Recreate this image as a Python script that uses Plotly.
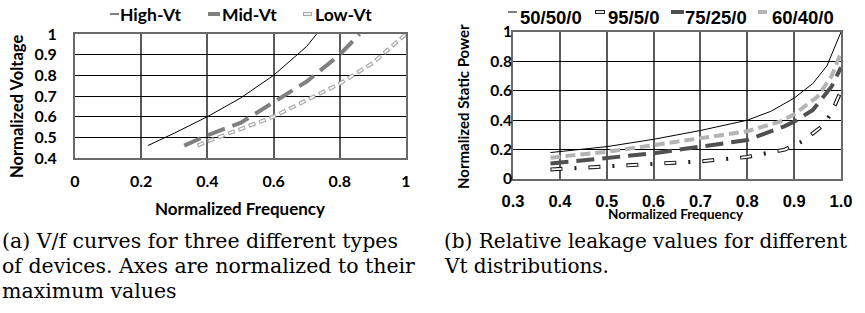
import plotly.graph_objects as go

# ---- data: left panel (V/f curves) ----
high_x = [0.22, 0.3, 0.4, 0.5, 0.6, 0.7, 0.73]
high_y = [0.46, 0.52, 0.6, 0.69, 0.8, 0.94, 1.0]
mid_x = [0.33, 0.4, 0.5, 0.6, 0.7, 0.8, 0.86]
mid_y = [0.46, 0.51, 0.57, 0.67, 0.77, 0.9, 1.0]
low_x = [0.37, 0.4, 0.5, 0.6, 0.7, 0.8, 0.9, 1.0]
low_y = [0.46, 0.48, 0.54, 0.6, 0.68, 0.76, 0.86, 1.0]

# ---- data: right panel (leakage) ----
s50_x = [0.38, 0.5, 0.6, 0.7, 0.8, 0.85, 0.9, 0.94, 0.97, 1.0]
s50_y = [0.18, 0.22, 0.27, 0.33, 0.4, 0.46, 0.55, 0.65, 0.77, 1.0]
s95_x = [0.38, 0.5, 0.6, 0.7, 0.8, 0.88, 0.92, 0.96, 0.98, 1.0]
s95_y = [0.065, 0.085, 0.1, 0.12, 0.15, 0.2, 0.26, 0.36, 0.45, 0.6]
s75_x = [0.38, 0.5, 0.6, 0.7, 0.8, 0.88, 0.9, 0.94, 0.98, 1.0]
s75_y = [0.105, 0.14, 0.175, 0.22, 0.265, 0.36, 0.39, 0.47, 0.63, 0.76]
s60_x = [0.38, 0.5, 0.6, 0.7, 0.8, 0.87, 0.9, 0.95, 0.98, 1.0]
s60_y = [0.145, 0.185, 0.23, 0.275, 0.325, 0.39, 0.44, 0.56, 0.7, 0.86]

left_names = ["High-Vt", "Mid-Vt", "Low-Vt"]
right_names = ["50/50/0", "95/5/0", "75/25/0", "60/40/0"]

left_xticks = [0, 0.2, 0.4, 0.6, 0.8, 1]
left_xlabels = ["0", "0.2", "0.4", "0.6", "0.8", "1"]
left_yticks = [0.4, 0.5, 0.6, 0.7, 0.8, 0.9, 1.0]
left_ylabels = ["0.4", "0.5", "0.6", "0.7", "0.8", "0.9", "1"]
right_xticks = [0.3, 0.4, 0.5, 0.6, 0.7, 0.8, 0.9, 1.0]
right_xlabels = ["0.3", "0.4", "0.5", "0.6", "0.7", "0.8", "0.9", "1.0"]
right_yticks = [0, 0.2, 0.4, 0.6, 0.8, 1.0]
right_ylabels = ["0", "0.2", "0.4", "0.6", "0.8", "1"]

W, H = 865, 313
CAL = "Lato, 'Open Sans', sans-serif"
ARI = "'Liberation Sans', Arial, sans-serif"
SERIF = "'DejaVu Serif', 'Liberation Serif', serif"

# styles
sty_high = dict(color="black", width=1)
sty_mid = dict(color="#808080", width=4, dash="18px,8px")
sty_low_o = dict(color="#a8a8a8", width=4, dash="7px,4px")
sty_low_i = dict(color="white", width=1.6, dash="0px,1px,5px,5px")
sty_50 = dict(color="black", width=1)
sty_95_o = dict(color="#202020", width=4, dash="12px,12px,2px,12px")
sty_95_i = dict(color="white", width=1.8, dash="0px,1px,10px,27px")
sty_75 = dict(color="#505050", width=4, dash="18px,8px")
sty_60 = dict(color="#b4b4b4", width=4, dash="10px,5px")

fig = go.Figure()

def add(x, y, name, line, xa, ya):
    fig.add_trace(go.Scatter(x=x, y=y, mode="lines", name=name, line=line,
                             xaxis=xa, yaxis=ya, showlegend=False))

add(high_x, high_y, left_names[0], sty_high, "x", "y")
add(mid_x, mid_y, left_names[1], sty_mid, "x", "y")
add(low_x, low_y, left_names[2], sty_low_o, "x", "y")
add(low_x, low_y, left_names[2], sty_low_i, "x", "y")
add(s50_x, s50_y, right_names[0], sty_50, "x2", "y2")
add(s95_x, s95_y, right_names[1], sty_95_o, "x2", "y2")
add(s95_x, s95_y, right_names[1], sty_95_i, "x2", "y2")
add(s75_x, s75_y, right_names[2], sty_75, "x2", "y2")
add(s60_x, s60_y, right_names[3], sty_60, "x2", "y2")

# plot areas in pixels
lx0, lx1, ly0, ly1 = 75, 406, 34, 158
rx0, rx1, ry0, ry1 = 513, 841, 32, 179

def xd(a, b):
    return [a / W, b / W]

def yd(top, bottom):
    return [(H - bottom) / H, (H - top) / H]

def px(xp):
    return xp / W

def py(yp):
    return 1 - yp / H

axis_common = dict(showline=True, mirror=True, linecolor="#6a6a6a", linewidth=2,
                   showgrid=True, zeroline=False, ticks="", fixedrange=True,
                   automargin=False)

fig.update_layout(
    width=W, height=H,
    margin=dict(l=0, r=0, t=0, b=0, autoexpand=False),
    paper_bgcolor="white", plot_bgcolor="white",
    showlegend=False,
    xaxis=dict(domain=xd(lx0, lx1), range=[0, 1], tickvals=left_xticks,
               ticktext=left_xlabels, gridcolor="#5a5a5a", gridwidth=2,
               tickfont=dict(family=CAL, size=16, color="black", weight="bold"),
               ticklabelstandoff=8, anchor="y", **axis_common),
    yaxis=dict(domain=yd(ly0, ly1), range=[0.4, 1.0], tickvals=left_yticks,
               ticktext=left_ylabels, gridcolor="black", gridwidth=1,
               tickfont=dict(family=CAL, size=16, color="black", weight="bold"),
               ticklabelstandoff=13, anchor="x", **axis_common),
    xaxis2=dict(domain=xd(rx0, rx1), range=[0.3, 1.0], tickvals=right_xticks,
                ticktext=right_xlabels, gridcolor="#5a5a5a", gridwidth=2,
                tickfont=dict(family=ARI, size=16.5, color="black", weight="bold"),
                ticklabelstandoff=6, anchor="y2", **axis_common),
    yaxis2=dict(domain=yd(ry0, ry1), range=[0, 1.0], tickvals=right_yticks,
                ticktext=right_ylabels, gridcolor="black", gridwidth=1,
                tickfont=dict(family=CAL, size=15.5, color="black", weight="bold"),
                ticklabelstandoff=-4, anchor="x2", **axis_common),
)

ann = []
shapes = []

def title(text, x, y, size, angle=0):
    ann.append(dict(text="<b>%s</b>" % text, x=px(x), y=py(y), xref="paper", yref="paper",
                    xanchor="center", yanchor="middle", showarrow=False, textangle=angle,
                    font=dict(family=CAL, size=size, color="black")))

title("Normalized Frequency", 240, 208, 17)
title("Normalized Voltage", 17, 107, 16.5, -90)
title("Normalized Frequency", 676, 214, 13.5)
title("Normalized Static Power", 463, 107, 15, -90)

# legends (swatch + label)
def seg(x0, x1, y, line):
    shapes.append(dict(type="line", xref="paper", yref="paper",
                       x0=px(x0), x1=px(x1), y0=py(y), y1=py(y), line=line))

def label(text, x, y, fam, size):
    ann.append(dict(text="<b>%s</b>" % text, x=px(x), y=py(y), xref="paper", yref="paper",
                    xanchor="left", yanchor="middle", showarrow=False,
                    font=dict(family=fam, size=size, color="black")))

seg(110, 119, 14, dict(color="black", width=1))
label(left_names[0], 118, 14, CAL, 17.5)
seg(208, 220, 14, dict(color="#808080", width=4))
label(left_names[1], 220, 14, CAL, 17.5)
seg(303, 312, 14, dict(color="#a8a8a8", width=4))
seg(304, 311, 14, dict(color="white", width=1.6))
label(left_names[2], 313, 14, CAL, 17.5)

seg(508, 517, 12, dict(color="black", width=1))
label(right_names[0], 518, 17, ARI, 18.5)
seg(595, 605, 12, dict(color="#202020", width=4))
seg(596, 604, 12, dict(color="white", width=1.8))
label(right_names[1], 606, 17, ARI, 18.5)
seg(671, 684, 12, dict(color="#505050", width=4))
label(right_names[2], 683, 17, ARI, 18.5)
seg(758, 767, 12, dict(color="#b4b4b4", width=4))
label(right_names[3], 770, 17, ARI, 18.5)

# captions
cap_a = ["(a) V/f curves for three different types",
         "of devices. Axes are normalized to their",
         "maximum values"]
cap_b = ["(b) Relative leakage values for different",
         "Vt distributions."]
line_y = [241, 266, 291]
for i, t in enumerate(cap_a):
    ann.append(dict(text=t, x=0, y=py(line_y[i]), xref="paper", yref="paper",
                    xanchor="left", yanchor="middle", showarrow=False,
                    font=dict(family=SERIF, size=20.5, color="black")))
for i, t in enumerate(cap_b):
    ann.append(dict(text=t, x=px(442), y=py(line_y[i]), xref="paper", yref="paper",
                    xanchor="left", yanchor="middle", showarrow=False,
                    font=dict(family=SERIF, size=20, color="black")))

fig.update_layout(annotations=ann, shapes=shapes)
fig.write_html("out.html", config={"displayModeBar": False},
               post_script="document.body.style.margin='0';document.body.style.overflow='hidden';")
